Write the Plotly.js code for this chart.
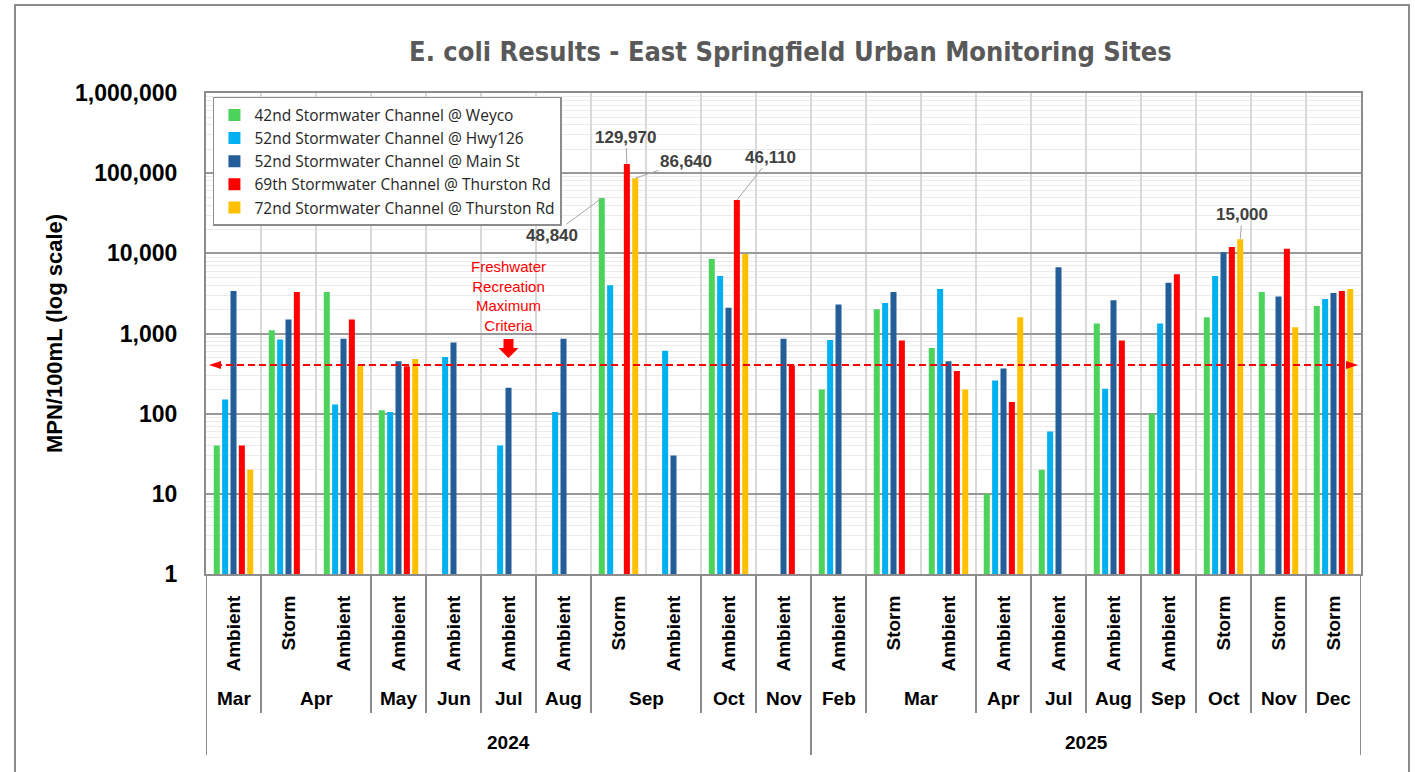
<!DOCTYPE html>
<html>
<head>
<meta charset="utf-8">
<script src="https://cdn.plot.ly/plotly-3.0.1.min.js"></script>
<style>
  html, body { margin: 0; padding: 0; background: #ffffff; }
  #chart { width: 1415px; height: 772px; }
</style>
</head>
<body>
<div id="chart"></div>
<script>
// ---------- data ----------
const years  = ['2024','2024','2024','2024','2024','2024','2024','2024','2024','2024','2024',
                '2025','2025','2025','2025','2025','2025','2025','2025','2025','2025'];
const months = ['Mar','Apr','Apr','May','Jun','Jul','Aug','Sep','Sep','Oct','Nov',
                'Feb','Mar','Mar','Apr','Jul','Aug','Sep','Oct','Nov','Dec'];
const types  = ['Ambient','Storm','Ambient','Ambient','Ambient','Ambient','Ambient','Storm','Ambient','Ambient','Ambient',
                'Ambient','Storm','Ambient','Ambient','Ambient','Ambient','Ambient','Storm','Storm','Storm'];

const seriesNames = ['42nd Stormwater Channel @ Weyco',
                     '52nd Stormwater Channel @ Hwy126',
                     '52nd Stormwater Channel @ Main St',
                     '69th Stormwater Channel @ Thurston Rd',
                     '72nd Stormwater Channel @ Thurston Rd'];

const weyco42    = [40, 1100, 3300, 110, null, null, null, 48840, null, 8500, null,
                    200, 2000, 660, 10, 20, 1330, 100, 1600, 3300, 2200];
const hwy126_52  = [150, 840, 130, 105, 510, 40, 105, 4000, 610, 5200, null,
                    830, 2400, 3600, 260, 60, 205, 1330, 5200, null, 2700];
const mainSt52   = [3400, 1500, 860, 450, 770, 210, 860, null, 30, 2100, 860,
                    2300, 3300, 450, 365, 6700, 2600, 4300, 10300, 2900, 3200];
const thurston69 = [40, 3300, 1500, 390, null, null, null, 129970, null, 46110, 400,
                    null, 820, 340, 140, null, 820, 5500, 12000, 11400, 3400];
const thurston72 = [20, null, 400, 480, null, null, null, 86640, null, 9800, null,
                    null, null, 200, 1600, null, null, null, 15000, 1200, 3600];

const criteriaValue = 406;
const criteriaText = 'Freshwater<br>Recreation<br>Maximum<br>Criteria';

const yTickVals = [1, 10, 100, 1000, 10000, 100000, 1000000];
const yTickText = ['1', '10', '100', '1,000', '10,000', '100,000', '1,000,000'];

// labelled bars: [series index, category index]
const labelled = [[0, 7], [3, 7], [4, 7], [3, 9], [4, 18]];

// ---------- styling ----------
const colors = ['#4CD35C', '#00B0F0', '#235E99', '#FF0000', '#FFC000'];
const FONT = 'Liberation Sans, Arial, sans-serif';
const series = [weyco42, hwy126_52, mainSt52, thurston69, thurston72];
const cats = months.map((m, i) => years[i] + ' ' + m + ' ' + types[i]);
const n = cats.length;
const BARGAP = 0.24;
const slot = (1 - BARGAP) / series.length;

const traces = series.map((vals, k) => ({
  type: 'bar',
  name: seriesNames[k],
  x: cats,
  y: vals,
  marker: { color: colors[k], line: { width: 0 } },
  hoverinfo: 'name+y'
}));

// plot area geometry (px) used only for decor placement
const plotTop = 93, plotBottom = 574, plotH = plotBottom - plotTop;
const pxToPaperY = px => (plotBottom - px) / plotH;
const catPx = (1415 - 206 - 54) / n;
const pxToCat = dx => dx / catPx;

const shapes = [];
// outer chart border
shapes.push({ type: 'rect', xref: 'paper', yref: 'paper',
  x0: (15 - 206) / (1415 - 260), x1: (1409 - 206) / (1415 - 260),
  y0: pxToPaperY(800), y1: pxToPaperY(5),
  line: { color: '#8c8c8c', width: 2 }, fillcolor: 'rgba(0,0,0,0)', layer: 'below' });

// criteria dashed line with arrow heads
const critPaper = Math.log10(criteriaValue) / 6;
const lx = -0.5 + pxToCat(3), rx = n - 0.5 - pxToCat(3);
const al = pxToCat(12), ah = 4 / plotH;
shapes.push({ type: 'line', xref: 'x', yref: 'paper',
  x0: lx + al * 0.5, x1: rx - al * 0.5,
  y0: critPaper, y1: critPaper,
  line: { color: '#FF0000', width: 2, dash: '7px,4px' } });
shapes.push({ type: 'path', xref: 'x', yref: 'paper',
  path: `M ${lx} ${critPaper} L ${lx + al} ${critPaper + ah} L ${lx + al} ${critPaper - ah} Z`,
  fillcolor: '#FF0000', line: { width: 0 } });
shapes.push({ type: 'path', xref: 'x', yref: 'paper',
  path: `M ${rx} ${critPaper} L ${rx - al} ${critPaper + ah} L ${rx - al} ${critPaper - ah} Z`,
  fillcolor: '#FF0000', line: { width: 0 } });

// block arrow under criteria text (Jul 2024 category)
const ac = cats.indexOf('2024 Jul Ambient');
const sw = pxToCat(5), hw = pxToCat(10);
const yA = pxToPaperY(339), yB = pxToPaperY(348), yT = pxToPaperY(358);
shapes.push({ type: 'path', xref: 'x', yref: 'paper',
  path: `M ${ac - sw} ${yA} L ${ac + sw} ${yA} L ${ac + sw} ${yB} L ${ac + hw} ${yB} L ${ac} ${yT} L ${ac - hw} ${yB} L ${ac - sw} ${yB} Z`,
  fillcolor: '#FF0000', line: { width: 0 } });

// category separators below axis
const monthBottom = pxToPaperY(713), yearBottom = pxToPaperY(755);
const sepLine = (x, yb) => ({ type: 'line', xref: 'x', yref: 'paper',
  x0: x, x1: x, y0: 0, y1: yb, line: { color: '#8c8c8c', width: 2 } });
shapes.push(sepLine(-0.5, yearBottom));
shapes.push(sepLine(n - 0.5, yearBottom));
for (let i = 1; i < n; i++) {
  if (years[i] !== years[i - 1]) shapes.push(sepLine(i - 0.5, yearBottom));
  else if (months[i] !== months[i - 1]) shapes.push(sepLine(i - 0.5, monthBottom));
}

const annotations = [];
// month group labels
let start = 0;
for (let i = 1; i <= n; i++) {
  if (i === n || months[i] !== months[start] || years[i] !== years[start]) {
    annotations.push({ xref: 'x', yref: 'paper', x: (start + i - 1) / 2, y: pxToPaperY(698),
      text: months[start], showarrow: false, yanchor: 'middle',
      font: { family: FONT, size: 19, color: '#000000', weight: 'bold' } });
    start = i;
  }
}
// year labels
start = 0;
for (let i = 1; i <= n; i++) {
  if (i === n || years[i] !== years[start]) {
    annotations.push({ xref: 'x', yref: 'paper', x: (start + i - 1) / 2, y: pxToPaperY(742),
      text: years[start], showarrow: false, yanchor: 'middle',
      font: { family: FONT, size: 19, color: '#000000', weight: 'bold' } });
    start = i;
  }
}
// criteria text
annotations.push({ xref: 'x', yref: 'paper', x: ac, y: pxToPaperY(296),
  text: criteriaText, showarrow: false, yanchor: 'middle', align: 'center',
  font: { family: FONT, size: 15, color: '#FF0000' } });

// data labels with leader lines (offsets in px)
const labelOffsets = [[-50, 37], [-1, -27], [51, -17], [34, -43], [2, -25]];
labelled.forEach(([k, c], j) => {
  const v = series[k][c];
  annotations.push({ xref: 'x', yref: 'y',
    x: c + (k - (series.length - 1) / 2) * slot,
    y: Math.log10(v),
    text: v.toLocaleString('en-US'),
    showarrow: true, arrowhead: 0, arrowwidth: 1, arrowcolor: '#a6a6a6',
    ax: labelOffsets[j][0], ay: labelOffsets[j][1], standoff: 0,
    font: { family: FONT, size: 17, color: '#404040', weight: 'bold' } });
});

const layout = {
  width: 1415, height: 772,
  margin: { l: 206, r: 54, t: 93, b: 198 },
  paper_bgcolor: '#ffffff', plot_bgcolor: '#ffffff',
  font: { family: FONT, color: '#000000' },
  title: { text: 'E. coli Results - East Springfield Urban Monitoring Sites',
    xref: 'paper', x: 0.506, xanchor: 'center', yref: 'container', y: 1 - 52 / 772, yanchor: 'middle',
    font: { family: 'Liberation Sans Narrow, DejaVu Sans Condensed, sans-serif', size: 27, color: '#595959', weight: 'bold' } },
  barmode: 'group', bargap: BARGAP, bargroupgap: 0.28,
  showlegend: true,
  legend: { x: 0.006, y: 0.992, xanchor: 'left', yanchor: 'top',
    bgcolor: '#ffffff', bordercolor: '#8c8c8c', borderwidth: 1.5,
    font: { family: 'Open Sans, Liberation Sans, sans-serif', size: 15.5, color: '#262626' },
    tracegroupgap: 0, itemwidth: 30 },
  xaxis: { type: 'category', categoryorder: 'array', categoryarray: cats,
    tickmode: 'array', tickvals: cats, ticktext: types, tickangle: -90,
    tickfont: { family: FONT, size: 19, color: '#000000', weight: 'bold' },
    tickson: 'boundaries', ticks: '', ticklabelstandoff: 12,
    showgrid: true, gridcolor: '#d9d9d9', gridwidth: 2,
    showline: true, linecolor: '#8c8c8c', linewidth: 2, mirror: true,
    range: [-0.5, n - 0.5], zeroline: false, fixedrange: true },
  yaxis: { type: 'log', range: [0, 6],
    tickmode: 'array', tickvals: yTickVals, ticktext: yTickText,
    tickfont: { family: FONT, size: 23, color: '#000000', weight: 'bold' },
    ticks: '', ticklabelstandoff: 22,
    showgrid: true, gridcolor: '#999999', gridwidth: 2,
    minor: { showgrid: true, gridcolor: '#ebebeb', gridwidth: 1, dtick: 'D1' },
    showline: true, linecolor: '#8c8c8c', linewidth: 2, mirror: true, zeroline: false,
    title: { text: 'MPN/100mL (log scale)', standoff: 6,
      font: { family: FONT, size: 22, color: '#000000', weight: 'bold' } },
    fixedrange: true },
  shapes: shapes,
  annotations: annotations
};

Plotly.newPlot('chart', traces, layout, { displayModeBar: false, staticPlot: true });
</script>
</body>
</html>
